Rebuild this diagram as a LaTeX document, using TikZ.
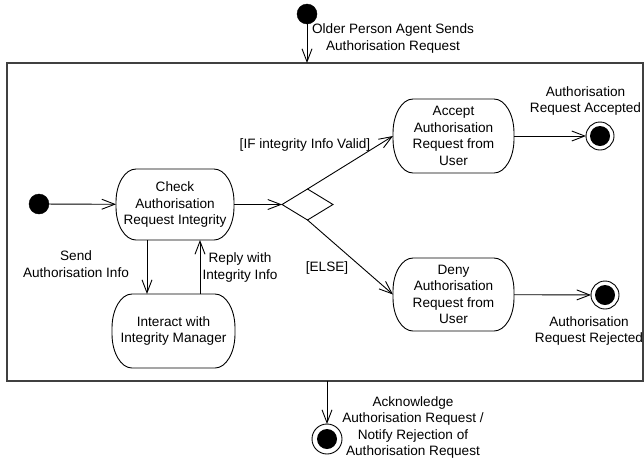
\documentclass[tikz,border=0pt]{standalone}
\usepackage{fontspec}
\setmainfont{Liberation Sans}
\usetikzlibrary{arrows.meta,shapes.geometric,calc}
\newcommand\ovalbox[3]{% node, x radius, y radius (pt)
  \draw[line width=0.9pt]
    ($(#1.north west)+(#2,0)$) -- ($(#1.north east)+(-#2,0)$)
    arc[start angle=90,end angle=0,x radius=#2pt,y radius=#3pt]
    -- ($(#1.south east)+(0,-#3)$)
    arc[start angle=0,end angle=-90,x radius=#2pt,y radius=#3pt]
    -- ($(#1.south west)+(#2,0)$)
    arc[start angle=-90,end angle=-180,x radius=#2pt,y radius=#3pt]
    -- ($(#1.north west)+(0,#3)$)
    arc[start angle=180,end angle=90,x radius=#2pt,y radius=#3pt]
    -- cycle;}
\begin{document}
\begin{tikzpicture}[x=1pt,y=-1pt,
  every node/.style={font=\fontsize{13.6}{16.5}\selectfont},
  arr/.style={draw=black, line width=0.9pt, -{Straight Barb[length=13pt,width=10pt,line width=0.9pt]}},
  actbox/.style={align=center, inner sep=0pt, outer sep=0pt},
  startdot/.style={circle, fill=black, draw=black, minimum size=20pt, inner sep=0pt, outer sep=0pt},
  enddot/.style={circle, draw=black, line width=0.9pt, minimum size=28pt, inner sep=0pt, outer sep=0pt,
     path picture={\fill[black] (path picture bounding box.center) circle (10pt);}},
  lbl/.style={align=center, inner sep=0pt}
]
\useasboundingbox (0,0) rectangle (644,461);
\fill[white] (0,0) rectangle (644,461);

% frame
\node[draw=black!75, line width=1.3pt, inner sep=0pt, outer sep=0pt, minimum width=636pt, minimum height=318pt] (frame) at (325,222) {};

% top initial
\node[startdot] (top) at (307,14) {};
\node[lbl] (toplbl) at (393,38.5) {Older Person Agent Sends\\Authorisation Request};
\draw[arr] (top) -- (top |- frame.north);

% inner initial
\node[startdot] (init) at (39,204) {};

% activities
\node[actbox, minimum width=118pt, minimum height=71pt] (check) at (175,204.5) {Check\\Authorisation\\Request Integrity};
\node[actbox, minimum width=123pt, minimum height=74pt] (interact) at (173.5,331) {Interact with\\Integrity Manager};
\node[actbox, minimum width=121pt, minimum height=74pt] (accept) at (453.5,136) {Accept\\Authorisation\\Request from\\User};
\node[actbox, minimum width=121pt, minimum height=73pt] (deny) at (453.5,294.5) {Deny\\Authorisation\\Request from\\User};
\ovalbox{check}{20}{33}
\ovalbox{interact}{20}{34}
\ovalbox{accept}{20}{34}
\ovalbox{deny}{20}{33}

% decision
\node[diamond, draw, line width=0.9pt, inner sep=0pt, outer sep=0pt, minimum width=51pt, minimum height=31pt] (dec) at (307.5,204.5) {};

% finals
\node[enddot] (fin1) at (600,136) {};
\node[enddot] (fin2) at (605,295) {};
\node[enddot, minimum size=30pt] (fin3) at (327,439) {};

% connectors
\draw[arr] (init) -- (check);
\draw[arr] (check) -- (dec.west);
\draw[arr] (dec.north) -- (accept.west);
\draw[arr] (dec.south) -- (deny.west);
\draw[arr] (accept) -- (fin1);
\draw[arr] (deny) -- (fin2);
\coordinate (sendx) at (147,0);
\coordinate (replyx) at (200,0);
\draw[arr] (check.south -| sendx) -- (interact.north -| sendx);
\draw[arr] (interact.north -| replyx) -- (check.south -| replyx);
\draw[arr] (frame.south -| fin3) -- (fin3);

% labels
\node[lbl] (ifl) at (305,145) {[IF integrity Info Valid]};
\node[lbl] (elsel) at (327,268) {[ELSE]};
\node[lbl] (sendl) at (76,264) {Send\\Authorisation Info};
\node[lbl] (replyl) at (240,267.5) {Reply with\\Integrity Info};
\node[lbl] (accl) at (585.5,101) {Authorisation\\Request Accepted};
\node[lbl] (rejl) at (589,331) {Authorisation\\Request Rejected};
\node[lbl] (ackl) at (413,427.5) {Acknowledge\\Authorisation Request /\\Notify Rejection of\\Authorisation Request};
\end{tikzpicture}
\end{document}
